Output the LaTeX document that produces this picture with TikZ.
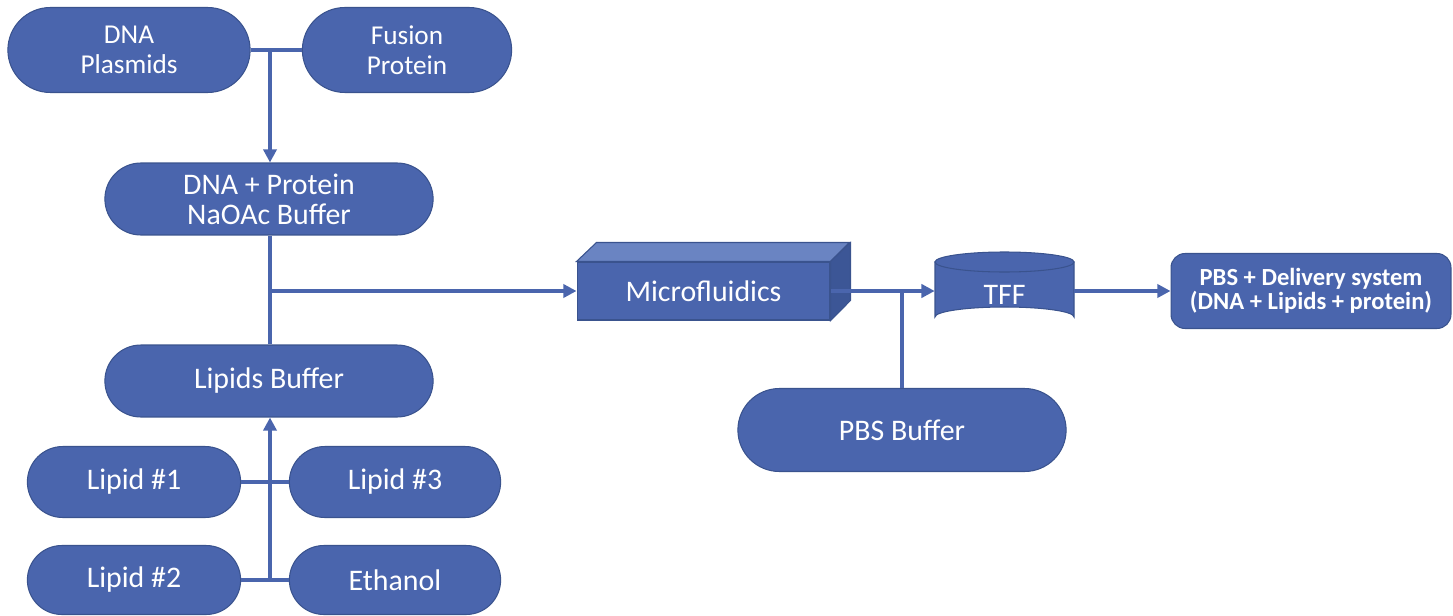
\documentclass[tikz,border=0pt]{standalone}
\usepackage{fontspec}
\setmainfont{Carlito}
\usetikzlibrary{shapes.misc, arrows.meta}

\definecolor{boxblue}{HTML}{4A65AD}
\definecolor{boxedge}{HTML}{3A538E}
\definecolor{boxtop}{HTML}{6A84C2}
\definecolor{boxside}{HTML}{3C5696}

\tikzset{
	pill/.style = {rounded rectangle, fill=boxblue, draw=boxedge, line width=0.6pt,
		text=white, align=center, font=\fontsize{17}{17}\selectfont},
	toppill/.style = {pill, font=\fontsize{15.5}{17}\selectfont},
	flow/.style = {draw=boxblue, line width=2pt},
	arr/.style = {flow, -{Triangle[length=7.5pt, width=7.5pt]}}
}

\begin{document}
\begin{tikzpicture}[x=0.02cm, y=-0.02cm]
		\useasboundingbox (0,0) rectangle (1453,615);

		% left column, top
		\node [toppill, minimum width=5.08cm, minimum height=1.7cm] (dna) at (129,50) {DNA\\Plasmids};
		\node [toppill, minimum width=4.42cm, minimum height=1.7cm] (fus) at (407,50) {Fusion\\Protein};
		\node [pill, minimum width=6.8cm, minimum height=1.44cm] (mix) at (269,199) {DNA + Protein\\NaOAc Buffer};
		\node [pill, minimum width=6.8cm, minimum height=1.44cm] (lip) at (269,381) {Lipids Buffer};

		% left column, bottom
		\node [pill, minimum width=4.5cm, minimum height=1.42cm] (l1) at (134,482) {Lipid \#1};
		\node [pill, minimum width=4.46cm, minimum height=1.42cm] (l3) at (395,482) {Lipid \#3};
		\node [pill, minimum width=4.5cm, minimum height=1.38cm] (l2) at (134,580) {Lipid \#2};
		\node [pill, minimum width=4.46cm, minimum height=1.38cm] (eth) at (395,580) {Ethanol};

		% microfluidics block
		\node [rectangle, fill=boxblue, draw=boxedge, line width=0.6pt, text=white,
			minimum width=5.06cm, minimum height=1.16cm, font=\fontsize{17}{17}\selectfont] (mf) at (703.5,291) {Microfluidics};
		\fill [boxtop, draw=boxedge, line width=0.6pt] (mf.north west) -- ++(20,-19) -- ++(253,0) -- (mf.north east) -- cycle;
		\fill [boxside, draw=boxedge, line width=0.6pt] (mf.north east) -- ++(20,-19) -- ++(0,58) -- (mf.south east) -- cycle;

		% tff cylinder
		\node [minimum width=2.78cm, minimum height=1.5cm] (tff) at (1004.5,291) {};
		\fill [boxblue, draw=boxedge, line width=0.6pt] (935,262) -- (935,317) arc [start angle=180, end angle=360, x radius=69.5, y radius=10] -- (1074,262) -- cycle;
		\fill [boxblue, draw=boxedge, line width=0.6pt] (1004.5,262) ellipse [x radius=69.5, y radius=10];
		\node [text=white, font=\fontsize{17}{17}\selectfont] at (1004.5,295) {TFF};

		\node [pill, minimum width=6.8cm, minimum height=1.66cm] (pbs) at (902,430) {PBS Buffer};

		\node [rectangle, rounded corners=8pt, fill=boxblue, draw=boxedge, line width=0.6pt, text=white, align=center,
			minimum width=5.6cm, minimum height=1.5cm, font=\bfseries\fontsize{14}{14}\selectfont] (out) at (1311,291)
			{PBS + Delivery system\\(DNA + Lipids + protein)};

		% connectors
		\coordinate (j1) at (270,50);
		\coordinate (j2) at (270,291);
		\coordinate (j3) at (270,580);

		\draw [flow] (dna.east) -- (fus.west);
		\draw [arr] (j1) -- (j1 |- mix.north);
		\draw [flow] (j1 |- mix.south) -- (j1 |- lip.north);
		\draw [arr] (j2) -- (mf.west);

		\draw [flow] (l1.east) -- (l3.west);
		\draw [flow] (l2.east) -- (eth.west);
		\draw [arr] (j3) -- (j3 |- lip.south);

		\draw [arr] (mf.east) ++(20,0) -- (tff.west);
		\draw [flow] (mf.east) -- ++(20,0);
		\draw [flow] (pbs.north) -- (pbs.north |- tff.west);
		\draw [arr] (tff.east) -- (out.west);
	\end{tikzpicture}
\end{document}
